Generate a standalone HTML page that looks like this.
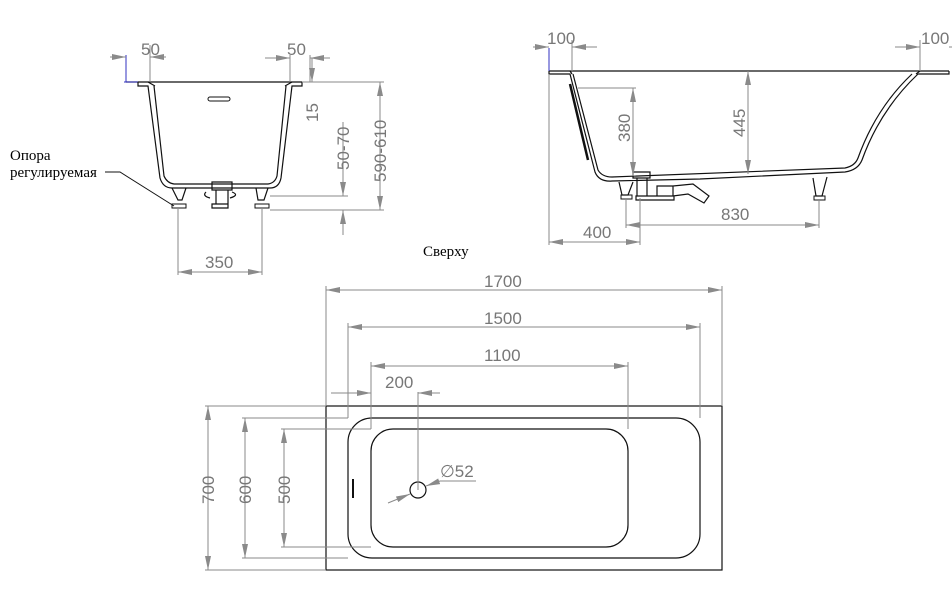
<!DOCTYPE html>
<html><head><meta charset="utf-8"><style>
html,body{margin:0;padding:0;background:#fff;}
svg{display:block;}
.d{stroke:#8a8a8a;stroke-width:1;fill:none;}
.k{stroke:#111;stroke-width:1.2;fill:none;}
.t{font-family:"Liberation Sans",Arial,sans-serif;font-size:17px;fill:#777;}
.s{font-family:"Liberation Serif",serif;font-size:15px;fill:#000;}
</style></head><body>
<svg width="952" height="591" viewBox="0 0 952 591" xmlns="http://www.w3.org/2000/svg">
<defs>
<marker id="a" viewBox="0 0 14 6" refX="14" refY="3" markerWidth="14" markerHeight="6" orient="auto-start-reverse" markerUnits="userSpaceOnUse">
<path d="M0,0 L14,3 L0,6 Z" fill="#8a8a8a"/></marker>
</defs>

<!-- LEFT SIDE VIEW -->
<g>
<line class="k" x1="126" y1="82" x2="302" y2="82"/>
<line x1="126" y1="55" x2="126" y2="82" stroke="#3030c0"/>
<line x1="124" y1="82" x2="138" y2="82" stroke="#3030c0"/>
<path class="k" d="M138,82 L138,86 L148,86 L160,178 Q163,188 172,188 L270,188 Q279,188 281,178 L292,86 L302,86 L302,82"/>
<path class="k" d="M148,82 L155,86 M292,82 L285,86"/>
<path class="k" d="M154,86 L164,176 Q167,183 174,184 L268,184 Q275,183 277,176 L286,86"/>
<rect x="208" y="97" width="22" height="4" rx="2" fill="none" stroke="#111"/>
<path class="k" d="M172,188 L178,200 L182,200 L186,188 M256,188 L258,200 L264,200 L268,188"/>
<rect x="172" y="204" width="14" height="4" fill="none" stroke="#111"/>
<rect x="255" y="204" width="14" height="4" fill="none" stroke="#111"/>
<path class="k" d="M212,182 h20 v8 h-20z M216,190 h12 v14 h-12z M212,204 h16 v4 h-16z M206,192 q-4,4 4,6 M232,192 q8,3 -2,6"/>
<!-- dims -->
<line class="d" x1="150" y1="45" x2="150" y2="82"/>
<line class="d" x1="110" y1="57" x2="126" y2="57" marker-end="url(#a)"/>
<line class="d" x1="166" y1="57" x2="150" y2="57" marker-end="url(#a)"/>
<text class="t" x="141" y="55">50</text>
<line class="d" x1="290" y1="55" x2="290" y2="82"/>
<line class="d" x1="310" y1="55" x2="310" y2="82"/>
<line class="d" x1="265" y1="58" x2="290" y2="58" marker-end="url(#a)"/>
<line class="d" x1="330" y1="58" x2="310" y2="58" marker-end="url(#a)"/>
<text class="t" x="287" y="55">50</text>
<line class="d" x1="302" y1="82" x2="384" y2="82"/>
<line class="d" x1="312" y1="58" x2="312" y2="82" marker-end="url(#a)"/>
<text class="t" transform="translate(318,122) rotate(-90)">15</text>
<line class="d" x1="270" y1="196" x2="348" y2="196"/>
<line class="d" x1="270" y1="210" x2="384" y2="210"/>
<line class="d" x1="343" y1="122" x2="343" y2="196" marker-end="url(#a)"/>
<line class="d" x1="343" y1="235" x2="343" y2="210" marker-end="url(#a)"/>
<text class="t" transform="translate(349,170) rotate(-90)">50-70</text>
<line class="d" x1="380" y1="82" x2="380" y2="210" marker-start="url(#a)" marker-end="url(#a)"/>
<text class="t" transform="translate(386,182) rotate(-90)">590-610</text>
<line class="d" x1="178" y1="208" x2="178" y2="275"/>
<line class="d" x1="262" y1="208" x2="262" y2="275"/>
<line class="d" x1="178" y1="272" x2="262" y2="272" marker-start="url(#a)" marker-end="url(#a)"/>
<text class="t" x="205" y="268">350</text>
<text class="s" x="10" y="160">Опора</text>
<text class="s" x="10" y="177">регулируемая</text>
<path d="M105,172 L120,172 L174,206" stroke="#111" stroke-width="1" fill="none"/>
</g>

<!-- RIGHT SIDE VIEW -->
<g>
<line class="k" x1="549" y1="71" x2="949" y2="71"/>
<line x1="549" y1="48" x2="549" y2="72" stroke="#3030c0"/>
<path class="k" d="M549,71 L549,74 L570,74 L595,172 Q599,182 612,181 L700,179 L845,172 Q858,170 862,160 Q880,110 918,74 L949,74 L949,71"/>
<path class="k" d="M570,71 L572,74 M920,71 L916,74"/>
<path class="k" d="M573,74 L598,170 Q602,177 612,177 L845,168 Q855,166 858,158 Q876,108 912,74"/>
<path d="M570,84 L588,160" stroke="#111" stroke-width="2.5"/>
<path class="k" d="M619,182 L622,195 L628,195 L633,182 M813,178 L816,196 L822,196 L827,177"/>
<rect x="621" y="195" width="11" height="4" fill="none" stroke="#111"/>
<rect x="814" y="196" width="11" height="4" fill="none" stroke="#111"/>
<path class="k" d="M633,172 h17 v6 h-17z M637,178 h10 v18 h-10z M636,196 h38 v4 h-38z M657,186 h16 v10 h-16z M673,186 l20,-2 l16,12 l-5,7 l-16,-9 l-15,2"/>
<!-- dims -->
<line class="d" x1="572" y1="40" x2="572" y2="71"/>
<line class="d" x1="533" y1="47" x2="549" y2="47" marker-end="url(#a)"/>
<line class="d" x1="597" y1="47" x2="572" y2="47" marker-end="url(#a)"/>
<text class="t" x="547" y="44">100</text>
<line class="d" x1="920" y1="40" x2="920" y2="71"/>
<line class="d" x1="895" y1="47" x2="920" y2="47" marker-end="url(#a)"/>
<line class="d" x1="952" y1="47" x2="949" y2="47"/>
<text class="t" x="921" y="44">100</text>
<line class="d" x1="549" y1="74" x2="549" y2="245"/>
<line class="d" x1="578" y1="88" x2="636" y2="88"/>
<line class="d" x1="633" y1="88" x2="633" y2="176" marker-start="url(#a)" marker-end="url(#a)"/>
<text class="t" transform="translate(630,142) rotate(-90)">380</text>
<line class="d" x1="748" y1="71" x2="748" y2="174" marker-start="url(#a)" marker-end="url(#a)"/>
<text class="t" transform="translate(745,137) rotate(-90)">445</text>
<line class="d" x1="626" y1="198" x2="626" y2="228"/>
<line class="d" x1="640" y1="198" x2="640" y2="245"/>
<line class="d" x1="819" y1="200" x2="819" y2="228"/>
<line class="d" x1="626" y1="225" x2="819" y2="225" marker-start="url(#a)" marker-end="url(#a)"/>
<text class="t" x="721" y="220">830</text>
<line class="d" x1="549" y1="242" x2="640" y2="242" marker-start="url(#a)" marker-end="url(#a)"/>
<text class="t" x="583" y="238">400</text>
</g>

<text class="s" x="423" y="256">Сверху</text>

<!-- PLAN VIEW -->
<g>
<rect x="326" y="406" width="396" height="164" fill="none" stroke="#111" stroke-width="1.2"/>
<rect x="348" y="418" width="352" height="140" rx="24" fill="none" stroke="#111" stroke-width="1.2"/>
<rect x="371" y="429" width="257" height="118" rx="22" fill="none" stroke="#111" stroke-width="1.2"/>
<line x1="353" y1="479" x2="353" y2="498" stroke="#111" stroke-width="2"/>
<circle cx="418" cy="490" r="8" fill="none" stroke="#111" stroke-width="1.2"/>
<!-- horizontal dims -->
<line class="d" x1="326" y1="286" x2="326" y2="406"/>
<line class="d" x1="722" y1="286" x2="722" y2="406"/>
<line class="d" x1="326" y1="290" x2="722" y2="290" marker-start="url(#a)" marker-end="url(#a)"/>
<text class="t" x="484" y="287">1700</text>
<line class="d" x1="348" y1="323" x2="348" y2="418"/>
<line class="d" x1="700" y1="323" x2="700" y2="418"/>
<line class="d" x1="348" y1="327" x2="700" y2="327" marker-start="url(#a)" marker-end="url(#a)"/>
<text class="t" x="484" y="324">1500</text>
<line class="d" x1="371" y1="362" x2="371" y2="429"/>
<line class="d" x1="628" y1="362" x2="628" y2="429"/>
<line class="d" x1="371" y1="366" x2="628" y2="366" marker-start="url(#a)" marker-end="url(#a)"/>
<text class="t" x="484" y="361">1100</text>
<line class="d" x1="418" y1="392" x2="418" y2="490"/>
<line class="d" x1="348" y1="393" x2="371" y2="393"/>
<line class="d" x1="348" y1="393" x2="331" y2="393"/>
<line class="d" x1="440" y1="393" x2="418" y2="393" marker-end="url(#a)"/>
<line class="d" x1="360" y1="393" x2="371" y2="393" marker-end="url(#a)"/>
<text class="t" x="385" y="388">200</text>
<line class="d" x1="388" y1="503" x2="410" y2="494" marker-end="url(#a)"/>
<line class="d" x1="440" y1="481" x2="426" y2="486" marker-end="url(#a)"/>
<line class="d" x1="440" y1="481" x2="476" y2="481"/>
<text class="t" x="440" y="477">∅52</text>
<!-- vertical dims -->
<line class="d" x1="205" y1="406" x2="326" y2="406"/>
<line class="d" x1="205" y1="570" x2="326" y2="570"/>
<line class="d" x1="208" y1="406" x2="208" y2="570" marker-start="url(#a)" marker-end="url(#a)"/>
<text class="t" transform="translate(214,504) rotate(-90)">700</text>
<line class="d" x1="242" y1="418" x2="348" y2="418"/>
<line class="d" x1="242" y1="558" x2="348" y2="558"/>
<line class="d" x1="245" y1="418" x2="245" y2="558" marker-start="url(#a)" marker-end="url(#a)"/>
<text class="t" transform="translate(251,504) rotate(-90)">600</text>
<line class="d" x1="281" y1="429" x2="371" y2="429"/>
<line class="d" x1="281" y1="547" x2="371" y2="547"/>
<line class="d" x1="284" y1="429" x2="284" y2="547" marker-start="url(#a)" marker-end="url(#a)"/>
<text class="t" transform="translate(290,504) rotate(-90)">500</text>
</g>
</svg>
</body></html>
